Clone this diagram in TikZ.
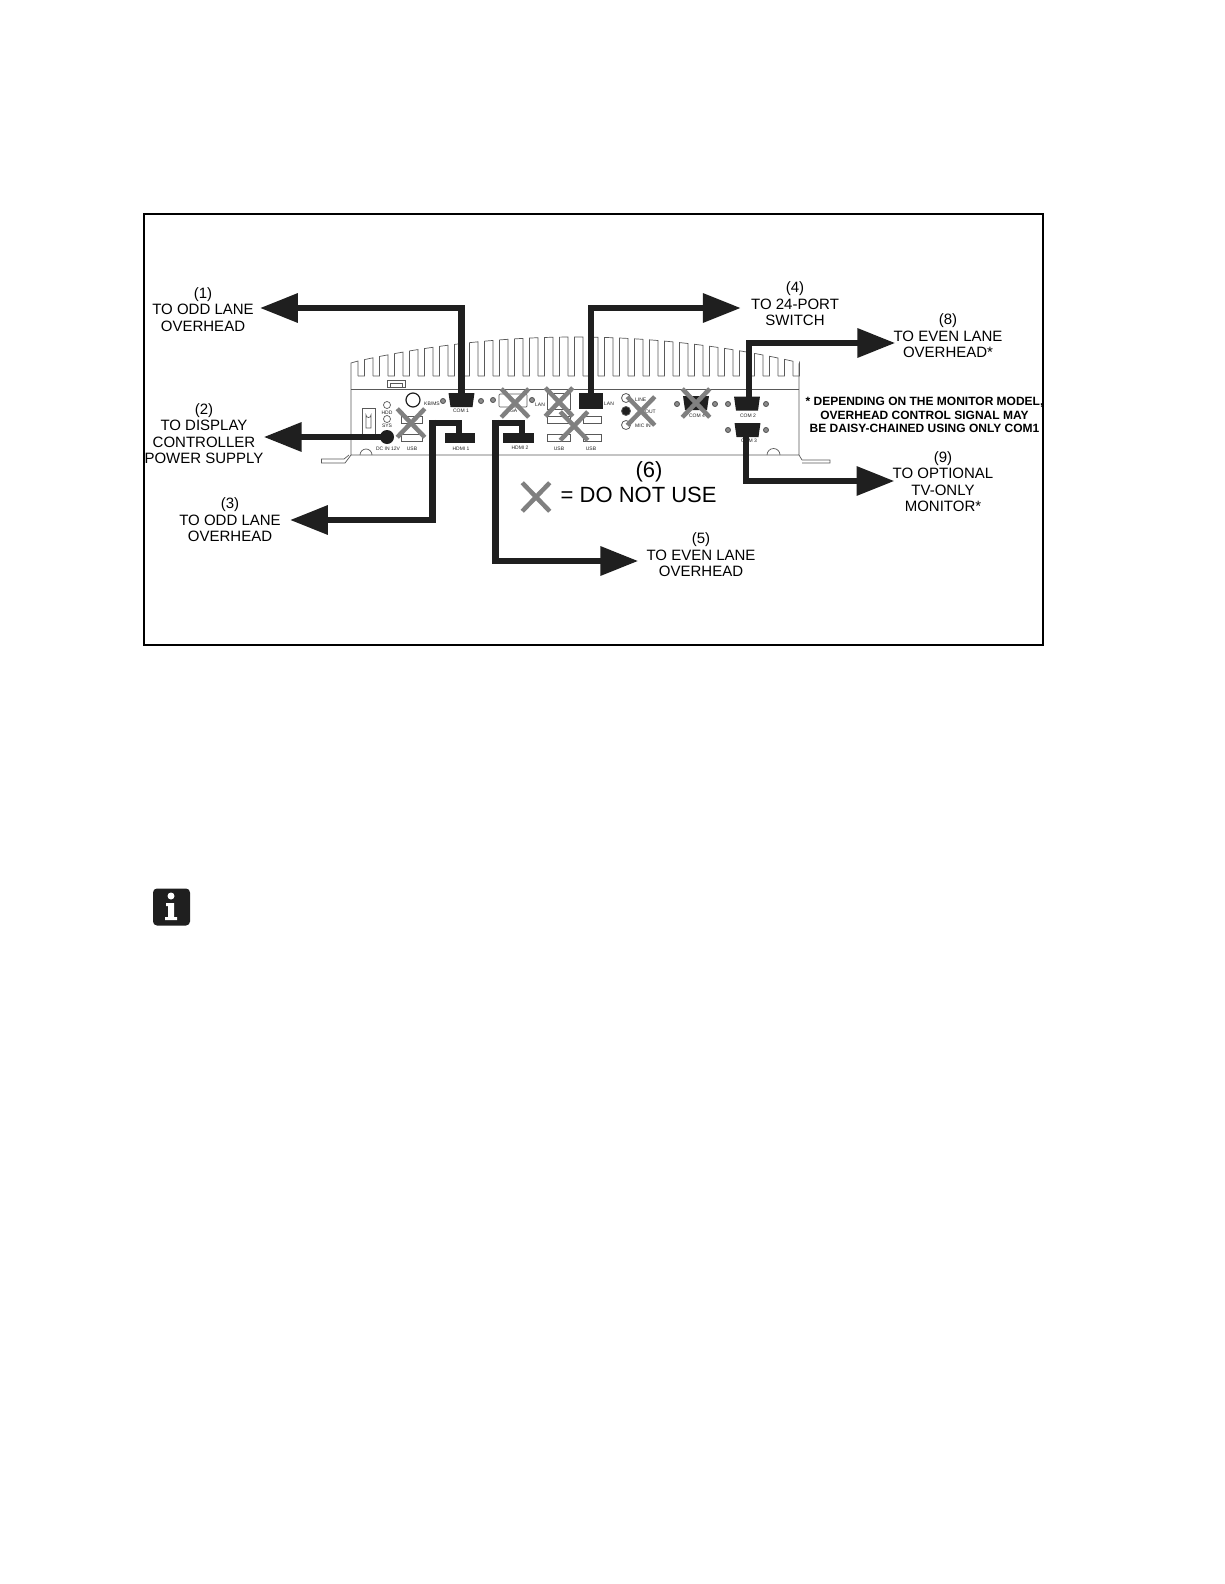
\documentclass[tikz,border=0pt]{standalone}
\usepackage{fontspec}
\setmainfont{Liberation Sans}
\usetikzlibrary{arrows.meta,shapes.misc,shapes.geometric}
\definecolor{crossgray}{gray}{0.5}
\definecolor{portblack}{gray}{0.12}
\definecolor{bodygray}{gray}{0.35}
\tikzset{
    lbl/.style={inner sep=0pt, align=center, font=\fontsize{15pt}{16.5pt}\selectfont},
    tiny/.style={inner sep=0pt, font=\fontsize{5pt}{6pt}\selectfont, text=portblack},
    body/.style={draw=bodygray, line width=0.7pt},
    port/.style={fill=portblack, inner sep=0pt},
    dsub/.style={port, trapezium, shape border rotate=180, trapezium angle=82, text width=22pt, text height=14pt, text depth=0pt},
    cable/.style={draw=portblack, line width=6.5pt, -{Triangle[length=38pt,width=28pt]}},
    link/.style={draw=portblack, line width=6.5pt},
    notuse/.style={cross out, draw=crossgray, line width=4.5pt, inner sep=0pt, minimum width=23pt, minimum height=24pt},
    screw/.style={circle, draw=bodygray, fill=black!45, line width=0.9pt, inner sep=0pt, minimum size=5pt}
}
\begin{document}
\begin{tikzpicture}[x=1pt,y=-1pt]
    \useasboundingbox (0,0) rectangle (1224,1584);
    \node[draw=black, line width=1.5pt, minimum width=899pt, minimum height=431pt, inner sep=0pt] (frame) at (593.7,429.5) {};

    % chassis
    \foreach \x in {0,...,29}{
        \pgfmathsetmacro{\xa}{358+15*\x}
        \pgfmathsetmacro{\xb}{\xa+6.5}
        \pgfmathsetmacro{\xc}{\xa+15}
        \pgfmathsetmacro{\ya}{337+24*((\xb-575)/217)^2}
        \pgfmathsetmacro{\yb}{337+24*((\xc-575)/217)^2}
        \ifnum\x<29
            \draw[body] (\xa,376) -- (\xb,376) -- (\xb,\ya) -- (\xc,\yb) -- (\xc,376);
        \else
            \draw[body] (\xa,376) -- (\xb,376) -- (\xb,\ya) -- (799,364);
        \fi
    }
    \draw[body] (358,376) -- (358,361) -- (351,363) -- (351,455) -- (799,455) -- (799,364);
    \draw[body] (351,389) -- (799,389);
    \draw[body] (321,463) -- (345,463) -- (351,455);
    \draw[body] (321,459) -- (344,459) -- (349,455);
    \draw[body] (321,459) -- (321,463);
    \draw[body] (799,455) -- (802,460) -- (830,460) -- (830,463) -- (802,463);
    \draw[body] (372,455) arc (180:0:-6);
    \draw[body] (767,455) arc (180:360:6.5);
    \draw[body] (387,380) rectangle (405,387);
    \draw[body] (390,383) rectangle (402,387);

    % left side ports
    \draw[body] (362,408) rectangle (375,435);
    \draw[body] (366,428) -- (366,415) arc (180:0:2.5) -- (371,428) -- cycle;
    \node[circle, draw=bodygray, line width=0.7pt, minimum size=7pt, inner sep=0pt] (hddled) at (387,405) {};
    \node[circle, draw=bodygray, line width=0.7pt, minimum size=7pt, inner sep=0pt] (sysled) at (387,419) {};
    \node[tiny] (hddtxt) at (387,413) {HDD};
    \node[tiny] (systxt) at (387,426) {SYS};
    \node[circle, fill=portblack, minimum size=14pt, inner sep=0pt] (dcin) at (387,437) {};
    \node[tiny] (dctxt) at (388,449) {DC IN 12V};
    \node[circle, draw=portblack, line width=1.2pt, minimum size=14pt, inner sep=0pt] (kbms) at (413,400) {};
    \node[tiny, anchor=west] (kbtxt) at (424,404) {KB/MS};
    \draw[body] (401,416) rectangle (422,423);
    \draw[body] (401,434) rectangle (422,441);
    \node[tiny] (usbone) at (412,449) {USB};

    % com 1 and hdmi
    \node[dsub] (com1) at (461.5,400) {};
    \node[screw] (comsa) at (443,401) {};
    \node[screw] (comsb) at (481,401) {};
    \node[tiny] (comone) at (461,411) {COM 1};
    \node[port, minimum width=30pt, minimum height=10pt] (hdmi1) at (460,438) {};
    \node[tiny] (hdmionetxt) at (461,449) {HDMI 1};
    \node[port, minimum width=31pt, minimum height=10pt] (hdmi2) at (518.5,438) {};
    \node[tiny] (hdmitwotxt) at (520,448) {HDMI 2};

    % middle ports
    \draw[body, rounded corners=1pt] (499,394) rectangle (527,407);
    \node[screw] (vgasa) at (493,400) {};
    \node[screw] (vgasb) at (532,400) {};
    \node[tiny] (vgatxt) at (512,411) {VGA};
    \node[tiny] (lantxta) at (540,405) {LAN};
    \draw[body] (547,393) rectangle (570,409);
    \draw[body] (547,416) rectangle (570,423);
    \draw[body] (547,434) rectangle (570,441);
    \node[tiny] (usbtwo) at (559,449) {USB};
    \draw[body] (583,416) rectangle (601,423);
    \draw[body] (583,434) rectangle (601,441);
    \node[tiny] (usbthree) at (591,449) {USB};
    \node[port, minimum width=24pt, minimum height=16pt] (lan) at (591,401) {};
    \node[tiny, anchor=west] (lantxtb) at (604,404) {LAN};
    \node[circle, draw=bodygray, line width=0.8pt, minimum size=9pt, inner sep=0pt] (jacka) at (626,398) {};
    \node[circle, draw=bodygray, fill=portblack, line width=0.8pt, minimum size=9pt, inner sep=0pt] (jackb) at (626,411) {};
    \node[circle, draw=bodygray, line width=0.8pt, minimum size=9pt, inner sep=0pt] (jackc) at (626,425) {};
    \node[tiny, anchor=west] (linetxt) at (635,400) {LINE};
    \node[tiny, anchor=west] (outtxt) at (645,412) {OUT};
    \node[tiny, anchor=west] (mictxt) at (635,426) {MIC IN};
    \node[dsub] (com4) at (696,403) {};
    \node[screw] (comsc) at (677,404) {};
    \node[screw] (comsd) at (715,404) {};
    \node[tiny] (comfour) at (697,416) {COM 4};

    % com 2 and com 3
    \node[dsub] (com2) at (747,403.5) {};
    \node[screw] (comse) at (728,404) {};
    \node[screw] (comsf) at (766,404) {};
    \node[tiny] (comtwo) at (748,416) {COM 2};
    \node[dsub] (com3) at (747.5,430) {};
    \node[screw] (comsg) at (728,430) {};
    \node[screw] (comsh) at (766,430) {};
    \node[tiny] (comthree) at (749,441) {COM 3};

    % do not use marks
    \node[notuse] (xkb) at (411,423) {};
    \node[notuse] (xvga) at (515,403) {};
    \node[notuse] (xlan) at (559,402) {};
    \node[notuse] (xusb) at (574,426) {};
    \node[notuse] (xaudio) at (641,411) {};
    \node[notuse] (xcom) at (696,403) {};
    \node[notuse] (xlegend) at (536,497) {};

    % labels
    \node[lbl] (lblone) at (203,309.5) {(1)\\TO ODD LANE\\OVERHEAD};
    \node[lbl] (lbltwo) at (204,433.5) {(2)\\TO DISPLAY\\CONTROLLER\\POWER SUPPLY};
    \node[lbl] (lblthree) at (230,520) {(3)\\TO ODD LANE\\OVERHEAD};
    \node[lbl] (lblfour) at (795,304) {(4)\\TO 24-PORT\\SWITCH};
    \node[lbl] (lblfive) at (701,555) {(5)\\TO EVEN LANE\\OVERHEAD};
    \node[lbl] (lbleight) at (948,336) {(8)\\TO EVEN LANE\\OVERHEAD*};
    \node[lbl] (lblnine) at (943,481.5) {(9)\\TO OPTIONAL\\TV-ONLY\\MONITOR*};
    \node[inner sep=0pt, font=\fontsize{22pt}{24pt}\selectfont] (lblsix) at (649,472) {(6)};
    \node[inner sep=0pt, anchor=west, font=\fontsize{22pt}{24pt}\selectfont] (legend) at (560.5,495) {= DO NOT USE};
    \node[inner sep=0pt, align=center, font=\fontsize{12pt}{13.5pt}\selectfont\bfseries] (note) at (924.5,415) {* DEPENDING ON THE MONITOR MODEL,\\OVERHEAD CONTROL SIGNAL MAY\\BE DAISY-CHAINED USING ONLY COM1};

    % cables
    \draw[cable] (com1.center) |- ([shift={(6,-1.5)}]lblone.east);
    \draw[cable] (dcin.center) -- ([shift={(0,3.5)}]lbltwo.east);
    \draw[link] (hdmi1.north -| 459,0) -- (459,423) -- (432.5,423);
    \draw[cable] (432.5,419.75) |- ([shift={(9,0)}]lblthree.east);
    \draw[link] (hdmi2.north -| 522,0) -- (522,423) -- (495.5,423);
    \draw[cable] (495.5,419.75) |- ([shift={(-8,6)}]lblfive.west);
    \draw[cable] (lan.center) |- ([shift={(-10,4)}]lblfour.west);
    \draw[cable] ([xshift=2pt]com2.center) |- ([shift={(2,7)}]lbleight.west);
    \draw[cable] ([xshift=-1.5pt]com3.center) |- ([shift={(2,-0.5)}]lblnine.west);

    % info icon
    \node[fill=portblack, rounded corners=4pt, minimum size=37pt, inner sep=0pt] (infobox) at (171.5,907) {};
    \node[circle, fill=white, minimum size=7pt, inner sep=0pt] (infodot) at (171,896) {};
    \fill[white] (166,903) -- (174,903) -- (174,917) -- (177,917) -- (177,920) -- (165,920) -- (165,917) -- (168,917) -- (168,906) -- (166,906) -- cycle;
\end{tikzpicture}
\end{document}
